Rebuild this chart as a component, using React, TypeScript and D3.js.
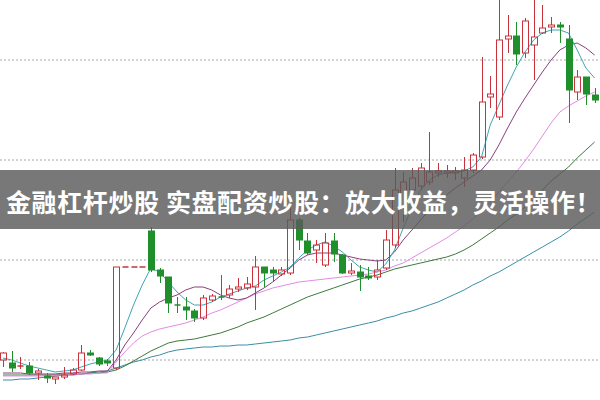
import * as d3 from "d3";
import { useEffect } from "react";

// candle data (price units), one entry per trading day
const opens = [4.0, 3.7, 3.3, 3.4, 2.7, 2.4, 2.1, 2.3, 2.6, 3.0, 4.7, 4.2, 3.9, 3.2, 13.3, 13.3, 13.3, 16.9, 13.0, 12.3, 9.5, 9.3, 8.9, 8.2, 10.0, 10.3, 10.5, 11.1, 11.2, 11.3, 13.3, 13.0, 12.6, 12.7, 18.0, 15.9, 15.0, 13.5, 15.9, 14.5, 12.7, 12.8, 12.4, 12.3, 13.2, 15.5, 19.3, 21.0, 21.4, 21.8, 22.7, 22.7, 22.7, 22.2, 23.0, 24.3, 30.3, 28.3, 36.1, 36.4, 34.7, 35.5, 36.7, 37.3, 37.5, 36.1, 30.8, 32.3, 30.5];
const closes = [4.7, 3.2, 3.4, 2.7, 2.9, 2.2, 2.3, 2.5, 3.0, 4.7, 4.5, 3.6, 3.7, 13.3, 13.3, 13.3, 13.3, 13.0, 12.4, 9.7, 9.4, 9.0, 8.2, 10.2, 10.4, 10.2, 11.1, 11.3, 11.6, 13.3, 12.7, 12.7, 13.0, 18.0, 16.0, 14.7, 15.5, 15.7, 14.6, 12.7, 12.9, 12.3, 12.2, 13.0, 16.0, 21.0, 21.8, 22.2, 23.2, 22.8, 22.9, 22.9, 22.9, 23.0, 24.5, 29.8, 30.6, 36.0, 36.4, 34.6, 37.9, 36.3, 37.2, 37.5, 37.3, 31.0, 32.3, 30.6, 30.0];
const highs = [4.8, 4.9, 4.3, 3.8, 3.1, 2.7, 2.3, 3.3, 3.2, 5.5, 5.0, 4.3, 4.1, 13.3, 13.3, 13.3, 13.3, 17.3, 13.2, 12.3, 10.3, 10.3, 9.1, 10.5, 10.6, 12.5, 11.5, 12.2, 12.3, 14.4, 13.3, 13.3, 13.3, 19.3, 18.2, 16.7, 16.0, 16.7, 16.7, 14.6, 13.7, 13.5, 13.3, 14.0, 17.0, 23.2, 22.8, 23.2, 23.7, 26.8, 23.7, 23.5, 23.3, 24.3, 24.7, 34.3, 32.4, 40.5, 38.5, 37.8, 38.2, 40.5, 39.5, 38.3, 37.8, 37.5, 33.0, 32.3, 31.2];
const lows = [3.3, 2.8, 3.1, 2.5, 2.0, 1.7, 1.6, 2.1, 2.5, 2.9, 4.4, 3.4, 3.4, 3.0, 13.3, 13.3, 13.3, 12.8, 11.7, 8.7, 8.7, 8.0, 7.8, 8.0, 9.8, 10.0, 10.2, 10.8, 11.0, 9.0, 11.3, 11.8, 12.4, 12.5, 15.0, 14.5, 13.7, 13.3, 13.8, 12.6, 12.5, 10.9, 12.0, 12.0, 13.0, 15.2, 17.8, 20.3, 21.0, 21.5, 22.3, 22.2, 22.0, 21.3, 22.7, 24.1, 29.2, 28.0, 34.7, 33.5, 34.2, 32.0, 36.6, 36.7, 35.7, 27.7, 30.0, 29.5, 29.7];

// moving average lines
const ma5 = [4.2, 4.0, 3.7, 3.4, 3.2, 3.0, 2.8, 2.9, 3.0, 3.3, 3.6, 3.8, 4.0, 5.0, 7.2, 9.5, 11.5, 13.2, 12.8, 11.8, 10.8, 10.0, 9.5, 9.5, 9.8, 10.3, 10.6, 10.9, 11.2, 11.4, 12.0, 12.4, 12.8, 13.3, 14.2, 15.0, 15.5, 15.8, 15.4, 14.8, 14.0, 13.3, 13.0, 12.8, 13.6, 15.0, 17.2, 19.2, 21.0, 22.0, 22.5, 22.7, 22.8, 22.9, 23.3, 24.3, 27.5, 29.5, 31.5, 33.3, 34.8, 36.0, 36.7, 37.0, 37.0, 36.7, 35.0, 33.2, 32.2];
const ma10 = [2.7, 2.7, 2.7, 2.6, 2.6, 2.6, 2.6, 2.7, 2.7, 2.8, 2.8, 2.9, 2.9, 4.0, 5.5, 6.7, 8.0, 9.2, 9.8, 10.2, 10.5, 11.0, 11.3, 11.3, 11.0, 10.5, 10.2, 10.0, 10.2, 10.7, 11.2, 11.8, 12.5, 13.2, 14.0, 14.5, 14.7, 14.7, 14.7, 14.5, 14.3, 14.1, 14.0, 13.9, 14.0, 14.8, 16.0, 17.0, 18.0, 19.0, 19.7, 20.5, 21.2, 21.8, 22.4, 23.0, 24.0, 25.5, 27.2, 28.8, 30.2, 31.5, 32.8, 34.0, 35.0, 35.5, 35.7, 35.2, 34.5];
const ma20 = [2.4, 2.4, 2.4, 2.4, 2.4, 2.4, 2.5, 2.5, 2.5, 2.6, 2.6, 2.7, 2.7, 3.8, 4.8, 5.7, 6.4, 6.8, 7.1, 7.3, 7.5, 7.7, 8.0, 8.3, 8.7, 9.0, 9.4, 9.8, 10.2, 10.6, 10.9, 11.2, 11.4, 11.6, 11.8, 11.9, 12.0, 12.1, 12.2, 12.3, 12.4, 12.5, 12.6, 12.8, 13.0, 13.4, 13.7, 14.2, 14.7, 15.2, 15.7, 16.2, 16.8, 17.4, 18.1, 18.9, 19.8, 20.8, 21.8, 22.8, 23.9, 25.1, 26.4, 27.7, 28.8, 29.4, 29.9, 30.4, 30.8];
const ma30 = [2.5, 2.5, 2.5, 2.5, 2.5, 2.5, 2.5, 2.6, 2.6, 2.6, 2.7, 2.7, 2.8, 3.0, 3.4, 3.9, 4.4, 4.9, 5.3, 5.7, 5.9, 6.0, 6.1, 6.3, 6.5, 6.7, 7.0, 7.3, 7.7, 8.0, 8.3, 8.7, 9.1, 9.5, 9.9, 10.3, 10.6, 10.9, 11.2, 11.5, 11.8, 12.1, 12.3, 12.5, 12.8, 13.1, 13.3, 13.5, 13.7, 13.9, 14.1, 14.3, 14.6, 15.0, 15.5, 16.1, 16.7, 17.3, 18.0, 18.6, 19.3, 20.0, 21.0, 21.9, 22.6, 23.3, 24.2, 25.0, 25.8];
const ma60 = [2.0, 2.0, 2.1, 2.1, 2.2, 2.3, 2.4, 2.5, 2.5, 2.6, 2.7, 2.8, 2.9, 3.2, 3.5, 3.8, 4.0, 4.3, 4.5, 4.8, 5.0, 5.1, 5.2, 5.3, 5.3, 5.4, 5.4, 5.5, 5.5, 5.6, 5.7, 5.8, 5.9, 6.0, 6.2, 6.3, 6.5, 6.7, 6.9, 7.1, 7.3, 7.5, 7.7, 7.9, 8.2, 8.4, 8.7, 8.9, 9.2, 9.5, 9.8, 10.2, 10.6, 11.0, 11.5, 11.9, 12.4, 12.8, 13.3, 13.8, 14.3, 14.8, 15.3, 15.8, 16.3, 16.9, 17.6, 18.2, 18.8];

const gridTicks = [4, 14, 24, 34];
const title = "金融杠杆炒股 实盘配资炒股：放大收益，灵活操作！";

const width = 600;
const height = 400;
const up = "#c8323a";
const down = "#1f8f2c";

export default function App() {
  useEffect(() => {
    document.body.style.margin = "0";
  }, []);

  const n = closes.length;
  const x = d3.scaleLinear([0, n - 1], [3, 594.6]);
  const y = d3.scaleLinear([0, 40], [height, 0]);
  const bodyW = 6;

  const lines = [
    { data: ma60, color: "#3b8ea6" },
    { data: ma30, color: "#3d7a3a" },
    { data: ma20, color: "#e48be4" },
    { data: ma10, color: "#8a3f7e" },
    { data: ma5, color: "#3fa5b3" },
  ];
  const line = d3.line<number>((_, i) => x(i), (d) => y(d));

  return (
    <svg width={width} height={height} style={{ display: "block" }}>
      <rect width={width} height={height} fill="#fff" />
      {gridTicks.map((t) => (
        <line key={t} x1={0} x2={width} y1={y(t)} y2={y(t)} stroke="#a8a8a8" strokeDasharray="2,2" />
      ))}
      {lines.map((l, k) => (
        <path key={k} d={line(l.data) ?? ""} fill="none" stroke={l.color} strokeWidth={1} />
      ))}
      {closes.map((c, i) => {
        const o = opens[i];
        const isUp = c >= o;
        const col = isUp ? up : down;
        const cx = Math.round(x(i)) + 0.5;
        const top = y(Math.max(o, c));
        const bot = y(Math.min(o, c));
        const h = bot - top;
        if (h < 1.5) {
          return (
            <g key={i} stroke={col}>
              <line x1={cx} x2={cx} y1={y(highs[i])} y2={y(lows[i])} />
              <line x1={cx - bodyW / 2} x2={cx + bodyW / 2} y1={top} y2={top} strokeWidth={1.5} />
            </g>
          );
        }
        if (isUp) {
          return (
            <g key={i} stroke={col} fill="none">
              <line x1={cx} x2={cx} y1={y(highs[i])} y2={top} />
              <line x1={cx} x2={cx} y1={bot} y2={y(lows[i])} />
              <rect x={cx - bodyW / 2} y={top} width={bodyW} height={h} />
            </g>
          );
        }
        return (
          <g key={i} stroke={col} fill={col}>
            <line x1={cx} x2={cx} y1={y(highs[i])} y2={y(lows[i])} />
            <rect x={cx - bodyW / 2} y={top} width={bodyW} height={h} />
          </g>
        );
      })}
      <rect x={0} y={170} width={width} height={59} fill="#5a5a5a" opacity={0.82} />
      <text
        x={6}
        y={201}
        dominantBaseline="central"
        fill="#fff"
        fontSize={25}
        fontWeight="bold"
        letterSpacing={0.6}
        fontFamily="'Noto Sans CJK SC', sans-serif"
      >
        {title}
      </text>
    </svg>
  );
}
